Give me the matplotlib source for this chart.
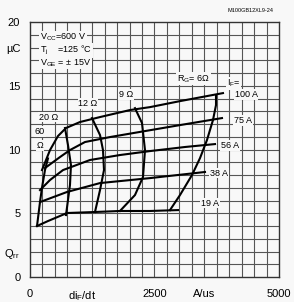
import matplotlib
matplotlib.use("Agg")
import matplotlib.pyplot as plt

plt.rcParams['font.family'] = ['Liberation Sans', 'DejaVu Sans']
plt.rcParams['mathtext.default'] = 'regular'

# Current curves Qrr vs diF/dt (x in A/us, y in uC)
i100_x = [241, 402, 562, 723, 1004, 1406, 2008, 2410, 3012, 3875]
i100_y = [8.39, 9.96, 11.06, 11.69, 12.16, 12.55, 13.10, 13.33, 13.80, 14.43]
i75_x = [301, 602, 803, 1104, 1606, 2309, 3012, 3855]
i75_y = [8.55, 9.41, 9.96, 10.59, 10.98, 11.45, 11.92, 12.47]
i56_x = [201, 402, 663, 1205, 1807, 2410, 3112, 3715]
i56_y = [6.82, 7.61, 8.39, 9.18, 9.57, 9.88, 10.20, 10.43]
i38_x = [201, 743, 1406, 2410, 3514]
i38_y = [5.88, 6.67, 7.37, 7.76, 8.24]
i19_x = [141, 361, 743, 1305, 1807, 2410, 2972]
i19_y = [4.00, 4.39, 5.02, 5.10, 5.18, 5.18, 5.25]

# Gate resistance iso-lines
r60_x = [141, 201, 241, 301, 361]
r60_y = [4.00, 5.88, 7.00, 8.39, 9.30]
r20_x = [703, 763, 823, 803, 763, 723]
r20_y = [11.69, 10.35, 8.78, 7.22, 6.04, 4.86]
r12_x = [1245, 1406, 1466, 1486, 1406, 1305]
r12_y = [12.47, 11.14, 9.96, 8.39, 6.82, 5.10]
r9_x = [2108, 2249, 2309, 2269, 2108, 1807]
r9_y = [13.25, 12.08, 9.96, 7.84, 6.43, 5.18]
r6_x = [3735, 3735, 3674, 3554, 3414, 3253, 3012, 2811]
r6_y = [14.27, 13.49, 12.31, 10.75, 9.33, 8.00, 6.43, 5.25]

x_ticks = [0, 1050, 2500, 3500, 5000]
x_ticklabels = ['0', 'di$_F$/dt', '2500', 'A/us', '5000']
y_ticks = [0, 2, 5, 10, 15, 18, 20]
y_ticklabels = ['0', 'Q$_{rr}$', '5', '10', '15', 'µC', '20']

bg = '#f8f8f8'
fig = plt.figure(figsize=(2.94, 3.02), dpi=100, facecolor=bg)
ax = fig.add_axes([0.102, 0.0828, 0.847, 0.844], facecolor=bg)
ax.set_xlim(0, 5000)
ax.set_ylim(0, 20)

# grid
for gx in range(250, 5000, 250):
    ax.axvline(gx, color='#555555', lw=0.8, zorder=1)
for gy in range(1, 20):
    ax.axhline(gy, color='#555555', lw=0.8, zorder=1)

for xs, ys in [(i100_x, i100_y), (i75_x, i75_y), (i56_x, i56_y), (i38_x, i38_y), (i19_x, i19_y),
               (r60_x, r60_y), (r20_x, r20_y), (r12_x, r12_y), (r9_x, r9_y), (r6_x, r6_y)]:
    ax.plot(xs, ys, color='black', lw=1.5, zorder=3)

ax.set_xticks(x_ticks)
ax.set_xticklabels(x_ticklabels, fontsize=8)
ax.set_yticks(y_ticks)
ax.set_yticklabels(y_ticklabels, fontsize=8)
ax.tick_params(axis='x', length=0, pad=9)
ax.tick_params(axis='y', length=0, pad=7)
for s in ax.spines.values():
    s.set_color('#333333')
    s.set_linewidth(1.0)

box = dict(facecolor=bg, edgecolor='none', pad=0.6)
fs = 6.5
ax.text(200, 18.8, 'V$_{CC}$=600 V', fontsize=fs, va='center', ha='left', bbox=box, zorder=4)
ax.text(200, 17.8, 'T$_j$    =125 °C', fontsize=fs, va='center', ha='left', bbox=box, zorder=4)
ax.text(200, 16.8, 'V$_{GE}$ = ± 15V', fontsize=fs, va='center', ha='left', bbox=box, zorder=4)

ax.text(1930, 14.3, '9 Ω', fontsize=fs, va='center', ha='center', bbox=box, zorder=4)
ax.text(1165, 13.6, '12 Ω', fontsize=fs, va='center', ha='center', bbox=box, zorder=4)
ax.text(380, 12.55, '20 Ω', fontsize=fs, va='center', ha='center', bbox=box, zorder=4)
ax.text(200, 11.4, '60', fontsize=fs, va='center', ha='center', bbox=box, zorder=4)
ax.text(200, 10.3, 'Ω', fontsize=fs, va='center', ha='center', bbox=box, zorder=4)

ax.text(2950, 15.55, 'R$_G$= 6Ω', fontsize=fs, va='center', ha='left', bbox=box, zorder=4)
ax.text(3950, 15.2, 'I$_F$=', fontsize=fs, va='center', ha='left', bbox=box, zorder=4)
ax.text(4340, 14.3, '100 A', fontsize=fs, va='center', ha='center', bbox=box, zorder=4)
ax.text(4280, 12.3, '75 A', fontsize=fs, va='center', ha='center', bbox=box, zorder=4)
ax.text(4020, 10.3, '56 A', fontsize=fs, va='center', ha='center', bbox=box, zorder=4)
ax.text(3800, 8.15, '38 A', fontsize=fs, va='center', ha='center', bbox=box, zorder=4)
ax.text(3620, 5.8, '19 A', fontsize=fs, va='center', ha='center', bbox=box, zorder=4)

fig.text(251 / 294, 1 - 11 / 302, 'M100GB12XL9-24', fontsize=4, ha='center', va='center')

fig.savefig('out.png', dpi=100, facecolor=bg)
